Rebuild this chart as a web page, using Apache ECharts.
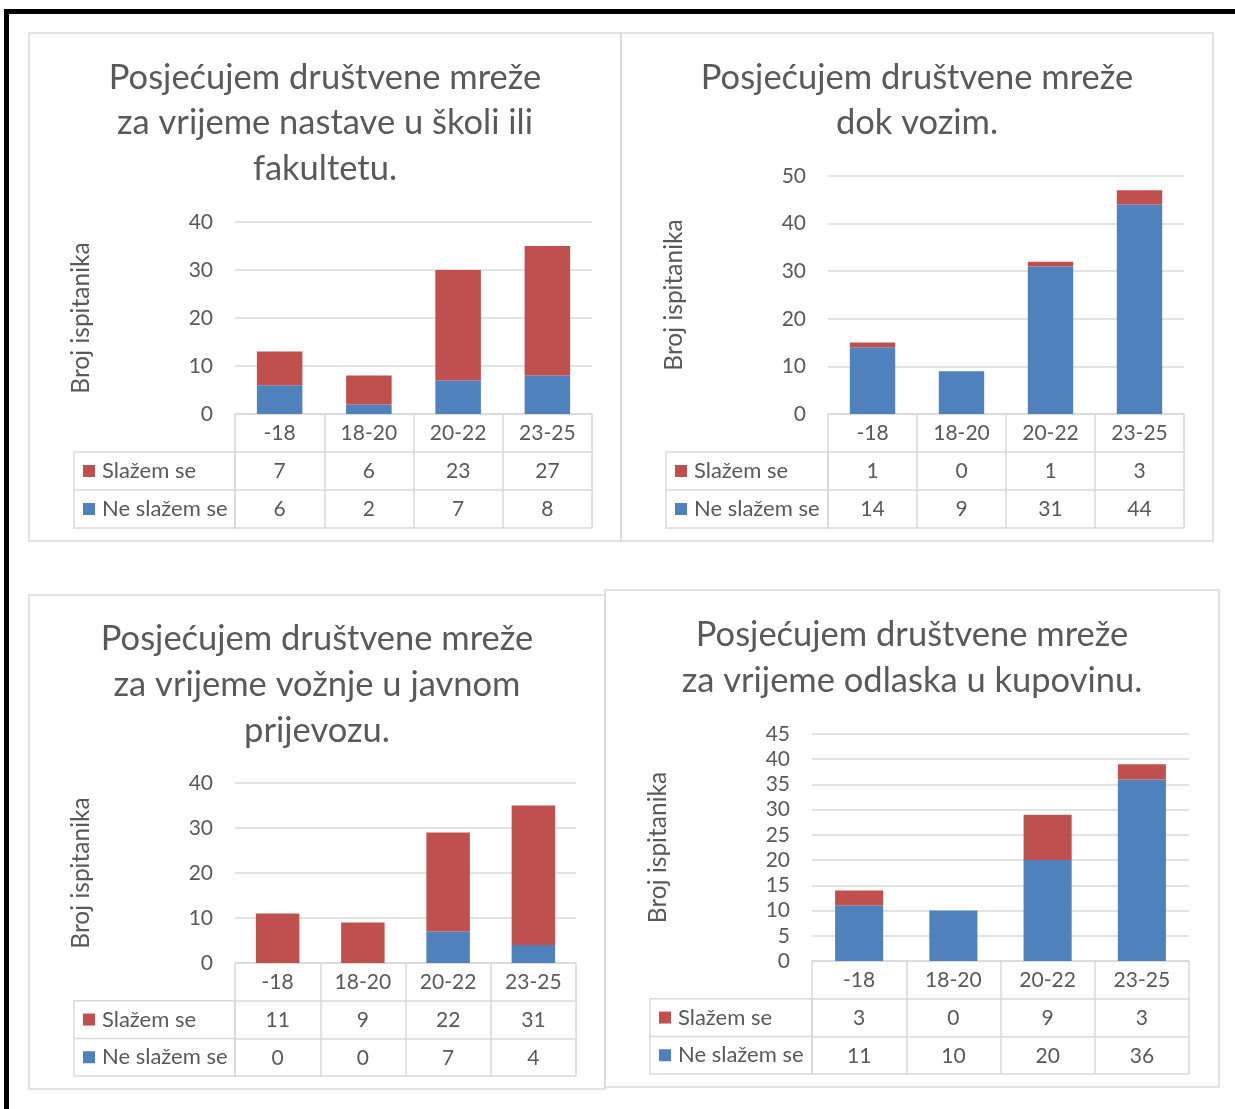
<!DOCTYPE html>
<html>
<head>
<meta charset="utf-8">
<script src="https://cdn.jsdelivr.net/npm/echarts@6/dist/echarts.min.js"></script>
<style>
  html, body { margin: 0; padding: 0; background: #ffffff; }
  #chart { width: 1235px; height: 1109px; }
</style>
</head>
<body>
<div id="chart"></div>
<script>
// Age groups shared by all four charts
const categories = ['-18', '18-20', '20-22', '23-25'];

// Chart titles
const titles = [
  'Posjećujem društvene mreže\nza vrijeme nastave u školi ili\nfakultetu.',
  'Posjećujem društvene mreže\ndok vozim.',
  'Posjećujem društvene mreže\nza vrijeme vožnje u javnom\nprijevozu.',
  'Posjećujem društvene mreže\nza vrijeme odlaska u kupovinu.'
];

// Answers per age group
const slazemNastava = [7, 6, 23, 27];
const neSlazemNastava = [6, 2, 7, 8];
const slazemVoznja = [1, 0, 1, 3];
const neSlazemVoznja = [14, 9, 31, 44];
const slazemPrijevoz = [11, 9, 22, 31];
const neSlazemPrijevoz = [0, 0, 7, 4];
const slazemKupovina = [3, 0, 9, 3];
const neSlazemKupovina = [11, 10, 20, 36];

// Value axis ranges
const axisMax = [40, 50, 40, 45];
const axisStep = [10, 10, 10, 5];

const seriesNames = ['Slažem se', 'Ne slažem se'];
const axisTitle = 'Broj ispitanika';

const slazem = [slazemNastava, slazemVoznja, slazemPrijevoz, slazemKupovina];
const neSlazem = [neSlazemNastava, neSlazemVoznja, neSlazemPrijevoz, neSlazemKupovina];

// Layout of the four chart panels
const layout = [
  { box: [29, 33, 592, 508], grid: { left: 235, top: 222, width: 357, height: 192 }, legendLeft: 74, titleX: 325, titleTop: 55, lineH: 45.5, row: 38 },
  { box: [621, 33, 592, 508], grid: { left: 828, top: 176, width: 356, height: 238 }, legendLeft: 666, titleX: 917, titleTop: 55, lineH: 45.5, row: 38 },
  { box: [29, 595, 576, 494], grid: { left: 235, top: 783, width: 341, height: 180 }, legendLeft: 74, titleX: 317, titleTop: 616, lineH: 46, row: 37.7 },
  { box: [605, 590, 614, 497], grid: { left: 812, top: 734, width: 377, height: 227 }, legendLeft: 650, titleX: 912, titleTop: 612, lineH: 46, row: 37.7 }
];

const FONT = 'Lato, "Noto Sans", sans-serif';
const TEXT = '#595959';
const LINE = '#d9d9d9';
const RED = '#c0504d';
const BLUE = '#4f81bd';

const grids = [], xAxes = [], yAxes = [], series = [], legends = [], titleOpts = [], graphics = [];

// Outer black frame
graphics.push({ type: 'rect', shape: { x: 4, y: 9, width: 1231, height: 5 }, style: { fill: '#000' }, z: 10 });
graphics.push({ type: 'rect', shape: { x: 4, y: 9, width: 5, height: 1100 }, style: { fill: '#000' }, z: 10 });

layout.forEach((L, p) => {
  const g = L.grid;
  const bottom = g.top + g.height;
  grids.push({ left: g.left, top: g.top, width: g.width, height: g.height, containLabel: false });

  // Panel border
  graphics.push({
    type: 'rect',
    shape: { x: L.box[0], y: L.box[1], width: L.box[2], height: L.box[3] },
    style: { fill: 'transparent', stroke: LINE, lineWidth: 1.5 },
    z: 0
  });
  // Legend column of the data table
  graphics.push({
    type: 'rect',
    shape: { x: L.legendLeft, y: bottom + L.row, width: g.left - L.legendLeft, height: 2 * L.row },
    style: { fill: 'transparent', stroke: LINE, lineWidth: 1.5 },
    z: 5
  });
  graphics.push({
    type: 'line',
    shape: { x1: L.legendLeft, y1: bottom + 2 * L.row, x2: g.left, y2: bottom + 2 * L.row },
    style: { stroke: LINE, lineWidth: 1.5 },
    z: 5
  });

  titleOpts.push({
    text: titles[p],
    left: L.titleX,
    top: L.titleTop,
    textAlign: 'center',
    padding: 0,
    textStyle: { fontFamily: FONT, fontSize: 34.5, fontWeight: 'normal', color: TEXT, lineHeight: L.lineH }
  });

  yAxes.push({
    type: 'value',
    gridIndex: p,
    min: 0,
    max: axisMax[p],
    interval: axisStep[p],
    name: axisTitle,
    nameLocation: 'middle',
    nameRotate: 90,
    nameGap: 141,
    nameTextStyle: { fontFamily: FONT, fontSize: 24.5, color: TEXT },
    axisLine: { show: false },
    axisTick: { show: false },
    axisLabel: { fontFamily: FONT, fontSize: 21, color: TEXT, margin: 22 },
    splitLine: { lineStyle: { color: LINE, width: 1.5 } }
  });

  // Table rows: header, agree values, disagree values, closing line
  const rowLabels = [
    (v, i) => categories[i],
    (v, i) => String(slazem[p][i]),
    (v, i) => String(neSlazem[p][i]),
    null
  ];
  rowLabels.forEach((fmt, r) => {
    xAxes.push({
      type: 'category',
      gridIndex: p,
      position: 'bottom',
      offset: r * L.row,
      data: categories,
      axisLine: { show: true, lineStyle: { color: LINE, width: 1.5 } },
      axisTick: { show: !!fmt, length: L.row, interval: 0, alignWithLabel: false, lineStyle: { color: LINE, width: 1.5 } },
      axisLabel: fmt ? { show: true, interval: 0, margin: 9, formatter: fmt, fontFamily: FONT, fontSize: 21, color: TEXT } : { show: false },
      splitLine: { show: false }
    });
  });

  const xi = p * 4;
  series.push({
    name: seriesNames[1], type: 'bar', stack: 'p' + p,
    xAxisIndex: xi, yAxisIndex: p, barWidth: '51%',
    itemStyle: { color: BLUE },
    data: neSlazem[p]
  });
  series.push({
    name: seriesNames[0], type: 'bar', stack: 'p' + p,
    xAxisIndex: xi, yAxisIndex: p, barWidth: '51%',
    itemStyle: { color: RED },
    data: slazem[p]
  });

  legends.push({
    orient: 'vertical',
    left: L.legendLeft + 9,
    top: bottom + L.row + (L.row - 26) / 2,
    padding: 0,
    itemWidth: 12,
    itemHeight: 12,
    itemGap: L.row - 26,
    icon: 'rect',
    selectedMode: false,
    data: seriesNames,
    textStyle: { fontFamily: FONT, fontSize: 22, color: TEXT, lineHeight: 26, padding: [0, 0, 0, 2] }
  });
});

const chart = echarts.init(document.getElementById('chart'), null, { renderer: 'canvas' });
chart.setOption({
  animation: false,
  backgroundColor: '#ffffff',
  title: titleOpts,
  legend: legends,
  grid: grids,
  xAxis: xAxes,
  yAxis: yAxes,
  series: series,
  graphic: graphics
});
</script>
</body>
</html>
